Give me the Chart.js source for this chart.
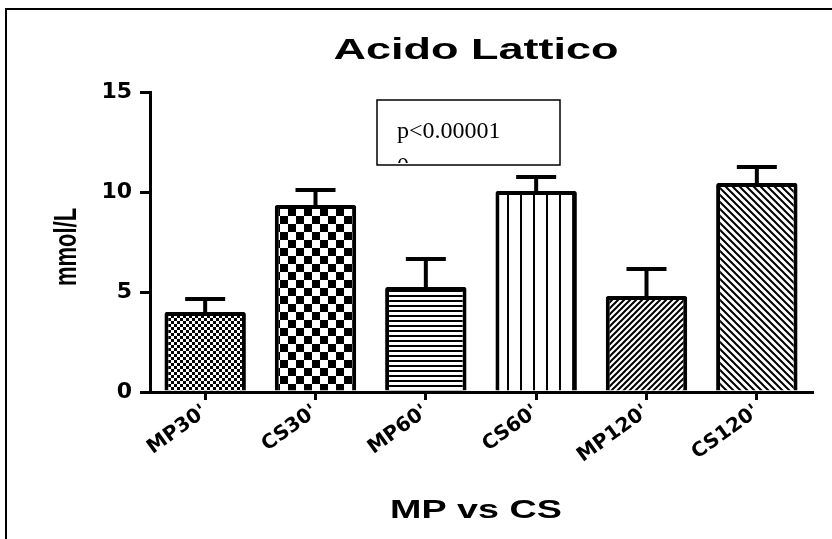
<!DOCTYPE html>
<html>
<head>
<meta charset="utf-8">
<script src="https://cdn.jsdelivr.net/npm/chart.js@4"></script>
<style>
html,body{margin:0;padding:0;background:#fff;}
canvas{display:block;}
</style>
</head>
<body>
<canvas id="c" width="832" height="539"></canvas>
<script>
const categories = ["MP30'", "CS30'", "MP60'", "CS60'", "MP120'", "CS120'"];
const means = [4.0, 9.35, 5.25, 10.05, 4.8, 10.45];
const errors = [0.65, 0.75, 1.4, 0.7, 1.35, 0.8];
const yTicks = [0, 5, 10, 15];
const patternKinds = ["checkSmall", "checkLarge", "horizontal", "vertical", "diagUp", "diagDown"];
const chartTitle = "Acido Lattico";
const xTitle = "MP vs CS";
const yTitle = "mmol/L";
const annotationLines = ["p<0.00001", "0"];

const FONT = "'DejaVu Sans', 'Liberation Sans', Arial, sans-serif";
const ARIAL = "'Liberation Sans', Arial, sans-serif";

function makePattern(kind) {
  const c = document.createElement('canvas');
  const ctx = c.getContext('2d');
  let s;
  if (kind === 'checkSmall') {
    s = 6; c.width = s; c.height = s;
    ctx.fillStyle = '#fff'; ctx.fillRect(0, 0, s, s);
    ctx.fillStyle = '#000'; ctx.fillRect(0, 0, 3, 3); ctx.fillRect(3, 3, 3, 3);
  } else if (kind === 'checkLarge') {
    s = 16; c.width = s; c.height = s;
    ctx.fillStyle = '#fff'; ctx.fillRect(0, 0, s, s);
    ctx.fillStyle = '#000'; ctx.fillRect(0, 0, 8, 8); ctx.fillRect(8, 8, 8, 8);
  } else if (kind === 'horizontal') {
    c.width = 8; c.height = 5;
    ctx.fillStyle = '#fff'; ctx.fillRect(0, 0, 8, 5);
    ctx.fillStyle = '#000'; ctx.fillRect(0, 0, 8, 2);
  } else if (kind === 'vertical') {
    c.width = 13; c.height = 8;
    ctx.fillStyle = '#fff'; ctx.fillRect(0, 0, 13, 8);
    ctx.fillStyle = '#000'; ctx.fillRect(0, 0, 2, 8);
  } else if (kind === 'diagUp') {
    s = 6; c.width = s; c.height = s;
    ctx.fillStyle = '#fff'; ctx.fillRect(0, 0, s, s);
    ctx.strokeStyle = '#000'; ctx.lineWidth = 2;
    ctx.beginPath();
    ctx.moveTo(-1, s + 1); ctx.lineTo(s + 1, -1);
    ctx.moveTo(-1, 1); ctx.lineTo(1, -1);
    ctx.moveTo(s - 1, s + 1); ctx.lineTo(s + 1, s - 1);
    ctx.stroke();
  } else {
    s = 7; c.width = s; c.height = s;
    ctx.fillStyle = '#fff'; ctx.fillRect(0, 0, s, s);
    ctx.strokeStyle = '#000'; ctx.lineWidth = 2;
    ctx.beginPath();
    ctx.moveTo(-1, -1); ctx.lineTo(s + 1, s + 1);
    ctx.moveTo(s - 1, -1); ctx.lineTo(s + 1, 1);
    ctx.moveTo(-1, s - 1); ctx.lineTo(1, s + 1);
    ctx.stroke();
  }
  return document.getElementById('c').getContext('2d').createPattern(c, 'repeat');
}

const fills = patternKinds.map(makePattern);

const errorBars = {
  id: 'errorBars',
  afterDatasetsDraw(chart) {
    const ctx = chart.ctx;
    const meta = chart.getDatasetMeta(0);
    const ys = chart.scales.y;
    ctx.save();
    ctx.strokeStyle = '#000';
    ctx.lineWidth = 4;
    ctx.lineCap = 'butt';
    meta.data.forEach((bar, i) => {
      const x = bar.x;
      const yTop = ys.getPixelForValue(means[i] + errors[i]);
      const yBar = bar.y;
      ctx.beginPath();
      ctx.moveTo(x, yBar);
      ctx.lineTo(x, yTop);
      ctx.moveTo(x - 20, yTop);
      ctx.lineTo(x + 20, yTop);
      ctx.stroke();
    });
    ctx.restore();
  }
};

function stretchedText(ctx, text, cx, cy, font, sx, rotate) {
  ctx.save();
  ctx.font = font;
  ctx.textAlign = 'center';
  ctx.textBaseline = rotate ? 'middle' : 'alphabetic';
  ctx.fillStyle = '#000';
  ctx.translate(cx, cy);
  ctx.scale(sx, 1);
  if (rotate) ctx.rotate(-Math.PI / 2);
  ctx.fillText(text, 0, 0);
  ctx.restore();
}

const decorations = {
  id: 'decorations',
  afterDraw(chart) {
    const ctx = chart.ctx;
    const area = chart.chartArea;
    const cx = (area.left + area.right) / 2 - 5;
    const cy = (area.top + area.bottom) / 2 + 5;
    ctx.save();
    // outer frame (top and left)
    ctx.strokeStyle = '#000';
    ctx.lineWidth = 2;
    ctx.beginPath();
    ctx.moveTo(6, 539); ctx.lineTo(6, 9); ctx.lineTo(832, 9);
    ctx.stroke();
    // titles
    stretchedText(ctx, chartTitle, cx, 59, "bold 30px " + ARIAL, 1.5, false);
    stretchedText(ctx, xTitle, cx, 518, "bold 26px " + ARIAL, 1.45, false);
    stretchedText(ctx, yTitle, 68, cy, "bold 22px " + ARIAL, 1.4, true);
    // annotation box
    const bx = 377, by = 100, bw = 183, bh = 65;
    ctx.fillStyle = '#fff';
    ctx.fillRect(bx, by, bw, bh);
    ctx.lineWidth = 1.5;
    ctx.strokeRect(bx, by, bw, bh);
    ctx.beginPath();
    ctx.rect(bx + 1, by + 1, bw - 2, bh - 3);
    ctx.clip();
    ctx.fillStyle = '#000';
    ctx.font = "24px 'Liberation Serif', 'Times New Roman', serif";
    ctx.textBaseline = 'alphabetic';
    ctx.textAlign = 'left';
    annotationLines.forEach((t, i) => ctx.fillText(t, 397, 138 + i * 35));
    ctx.restore();
  }
};

new Chart(document.getElementById('c'), {
  type: 'bar',
  data: {
    labels: categories,
    datasets: [{
      data: means,
      backgroundColor: fills,
      borderColor: '#000',
      borderWidth: 4,
      borderRadius: 2,
      borderSkipped: 'bottom',
      barPercentage: 0.82,
      categoryPercentage: 0.9
    }]
  },
  options: {
    responsive: false,
    animation: false,
    devicePixelRatio: 1,
    layout: { padding: { left: 50, right: 20, top: 92, bottom: 0 } },
    plugins: {
      legend: { display: false },
      tooltip: { enabled: false },
      title: { display: false }
    },
    scales: {
      x: {
        afterFit(scale) { scale.height = 539 - 392; },
        grid: {
          display: true, drawOnChartArea: false, drawTicks: true,
          tickLength: 8, color: '#000', lineWidth: 3, offset: false
        },
        border: { display: true, color: '#000', width: 3 },
        ticks: {
          color: '#000', maxRotation: 36, minRotation: 36,
          font: { family: FONT, size: 20, weight: 'bold' }, padding: 0
        }
      },
      y: {
        min: 0, max: 15,
        afterFit(scale) { scale.width = 100; },
        afterBuildTicks(scale) { scale.ticks = yTicks.map(v => ({ value: v })); },
        grid: {
          display: true, drawOnChartArea: false, drawTicks: true,
          tickLength: 10, color: '#000', lineWidth: 3
        },
        border: { display: true, color: '#000', width: 3 },
        ticks: {
          color: '#000', padding: 8,
          font: { family: FONT, size: 22, weight: 'bold' }
        }
      }
    }
  },
  plugins: [errorBars, decorations]
});
</script>
</body>
</html>
